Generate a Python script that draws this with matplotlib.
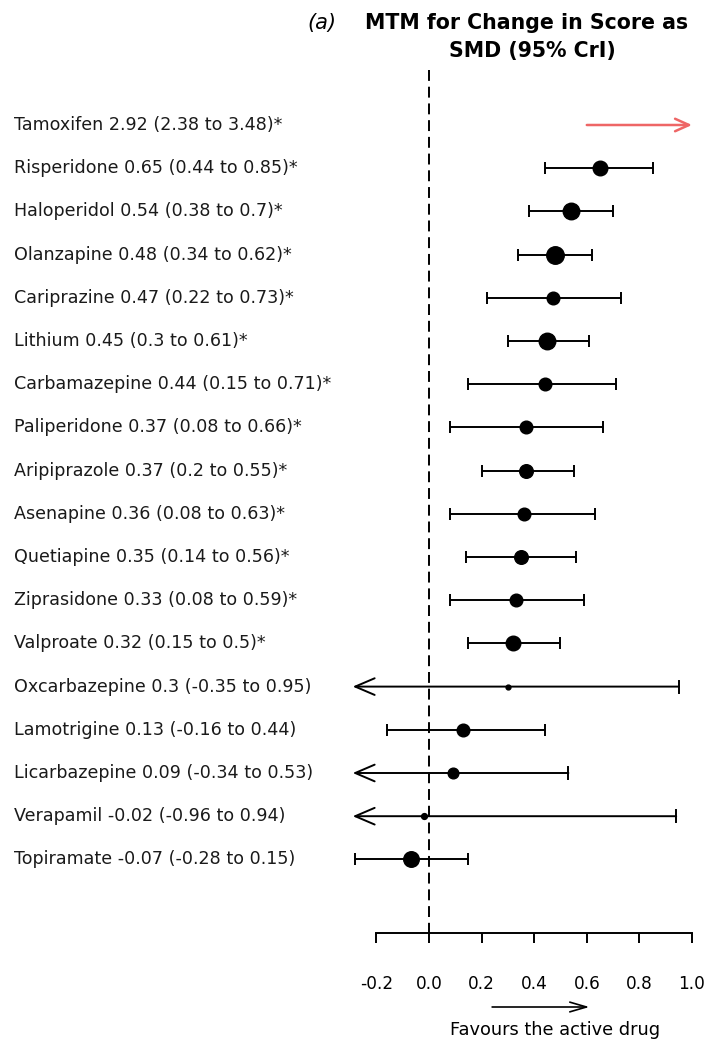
import numpy as np
import matplotlib
matplotlib.use("Agg")
import matplotlib.pyplot as plt

plt.rcParams['font.family'] = ['DejaVu Sans']

drugs = ["Tamoxifen", "Risperidone", "Haloperidol", "Olanzapine", "Cariprazine",
         "Lithium", "Carbamazepine", "Paliperidone", "Aripiprazole", "Asenapine",
         "Quetiapine", "Ziprasidone", "Valproate", "Oxcarbazepine", "Lamotrigine",
         "Licarbazepine", "Verapamil", "Topiramate"]
smd = [2.92, 0.65, 0.54, 0.48, 0.47, 0.45, 0.44, 0.37, 0.37, 0.36, 0.35, 0.33,
       0.32, 0.3, 0.13, 0.09, -0.02, -0.07]
lo = [2.38, 0.44, 0.38, 0.34, 0.22, 0.3, 0.15, 0.08, 0.2, 0.08, 0.14, 0.08,
      0.15, -0.35, -0.16, -0.34, -0.96, -0.28]
hi = [3.48, 0.85, 0.7, 0.62, 0.73, 0.61, 0.71, 0.66, 0.55, 0.63, 0.56, 0.59,
      0.5, 0.95, 0.44, 0.53, 0.94, 0.15]
signif = [True] * 13 + [False] * 5
# relative weight of each estimate (drives dot size)
weight = [0, 15, 17, 18, 13, 17, 13, 13, 14, 13, 14, 13, 15, 5, 13, 11, 6, 16]
xticks = [-0.2, 0.0, 0.2, 0.4, 0.6, 0.8, 1.0]

xmin_plot, xmax_plot = -0.29, 1.0

fig = plt.figure(figsize=(7.08, 10.44), dpi=100)
ax = fig.add_axes([0, 0, 1, 1])
# map pixels: x=0 -> 429px, 1 -> 692px ; rows every 43.2px starting at 125px
ax.set_xlim(-429 / 263, (708 - 429) / 263)
ax.set_ylim((1044 - 125) / 43.2, -125 / 43.2)
for s in ["top", "right", "left"]:
    ax.spines[s].set_visible(False)

ax.axvline(0, ymin=1 - (70 / 1044), ymax=1 - (933 / 1044), color="black",
           lw=1.4, ls=(0, (5.6, 3)), zorder=1)

xlab = -415 / 263
for i, d in enumerate(drugs):
    lab = "%s %s (%s to %s)%s" % (d, smd[i], lo[i], hi[i], "*" if signif[i] else "")
    ax.text(xlab, i, lab, ha="left", va="center", fontsize=12.6, color="#1a1a1a")

    if smd[i] > xmax_plot:
        ax.annotate("", xy=(xmax_plot, i), xytext=(0.6, i),
                    arrowprops=dict(arrowstyle="->,head_length=1.0,head_width=0.45",
                                    color="#EE6666", lw=1.8, shrinkA=0, shrinkB=0))
        continue
    if lo[i] < xmin_plot:
        ax.annotate("", xy=(xmin_plot, i), xytext=(hi[i], i),
                    arrowprops=dict(arrowstyle="->,head_length=1.4,head_width=0.6",
                                    color="black", lw=1.4, shrinkA=0, shrinkB=0))
        ax.plot([hi[i]] * 2, [i - 0.14, i + 0.14], color="black", lw=1.4)
    else:
        ax.errorbar(smd[i], i, xerr=[[smd[i] - lo[i]], [hi[i] - smd[i]]], fmt="none",
                    ecolor="black", elinewidth=1.4, capsize=4.5, capthick=1.4)
    ax.plot(smd[i], i, "o", color="black", ms=weight[i] * 0.7, zorder=3)

axis_y = (933 - 125) / 43.2
ax.spines["bottom"].set_position(("data", axis_y))
ax.spines["bottom"].set_bounds(-0.2, 1.0)
ax.spines["bottom"].set_linewidth(1.4)
ax.set_yticks([])
ax.set_xticks(xticks)
ax.set_xticklabels(["%.1f" % t for t in xticks], fontsize=12.2)
ax.tick_params(axis="x", direction="out", length=7, width=1.4, pad=23)

ax.annotate("", xy=(0.61, (1007 - 125) / 43.2), xytext=(0.24, (1007 - 125) / 43.2),
            arrowprops=dict(arrowstyle="->,head_length=1.2,head_width=0.35",
                            color="black", lw=1.2, shrinkA=0, shrinkB=0))
ax.text(0.478, (1030 - 125) / 43.2, "Favours the active drug", ha="center",
        va="center", fontsize=12.8)

fig.text(322 / 708, 1 - 23 / 1044, "(a)", style="italic", fontsize=15,
         ha="center", va="center")
fig.text(527 / 708, 1 - 23 / 1044, "MTM for Change in Score as",
         fontweight="bold", fontsize=14.8, ha="center", va="center")
fig.text(532 / 708, 1 - 51 / 1044, "SMD (95% CrI)",
         fontweight="bold", fontsize=14.8, ha="center", va="center")

fig.savefig("out.png", dpi=100)
